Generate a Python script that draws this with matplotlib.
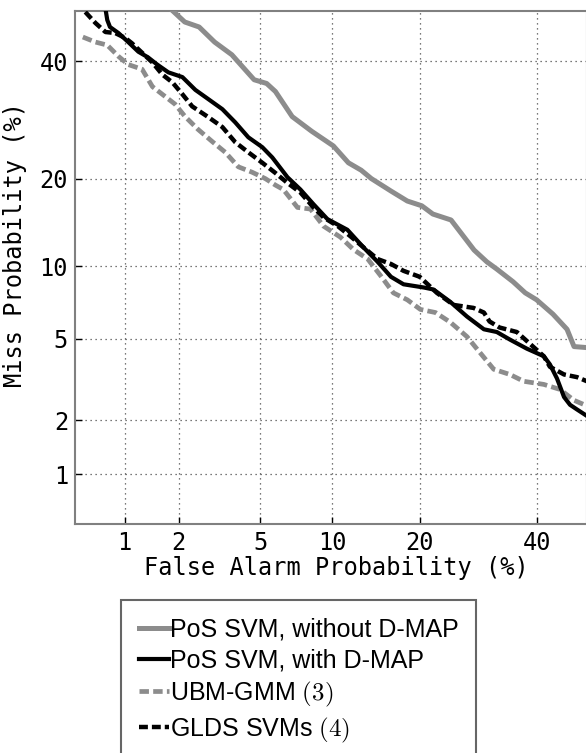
import numpy as np
import matplotlib
matplotlib.use('Agg')
import matplotlib.pyplot as plt
from statistics import NormalDist

# DET Kurve: Miss vs. False Alarm auf Normal-Deviate-Achsen

# Werte in Prozent
nodmap_fa = [1.8, 2.15, 2.55, 3.05, 3.7, 4.15, 4.7, 5.35, 5.85, 6.9, 8.3, 10.1, 11.5, 12.8, 13.9,
             16.2, 18.3, 20.3, 21.9, 24.7, 28.5, 30.7, 32.5, 35.5, 37.8, 40.0, 43.2, 46.0, 47.4, 50.0]
nodmap_miss = [50.5, 47.8, 46.8, 43.8, 41.3, 39.0, 36.5, 35.8, 34.3, 29.8, 27.3, 24.9, 22.3, 21.2, 20.0,
               18.3, 17.0, 16.4, 15.4, 14.7, 11.5, 10.4, 9.75, 8.7, 7.85, 7.35, 6.4, 5.5, 4.6, 4.55]

dmap_fa = [0.77, 0.79, 0.82, 0.92, 1.05, 1.2, 1.36, 1.53, 1.76, 2.09, 2.44, 2.84, 3.33, 3.84, 4.42,
           5.12, 5.67, 6.59, 7.47, 8.44, 9.58, 11.4, 13.0, 14.6, 16.2, 17.8, 20.6, 22.0, 24.6, 27.3,
           30.2, 32.5, 34.9, 38.1, 41.4, 42.6, 44.0, 45.4, 46.6, 48.0, 50.0]
dmap_miss = [50.5, 48.2, 46.8, 45.6, 43.8, 41.9, 40.8, 39.4, 37.9, 37.0, 34.6, 32.9, 31.1, 28.8, 26.3,
             24.7, 23.1, 20.2, 18.5, 16.6, 14.8, 13.6, 11.8, 10.4, 9.1, 8.5, 8.25, 8.1, 7.2, 6.25,
             5.5, 5.35, 4.95, 4.5, 4.15, 3.8, 3.25, 2.63, 2.4, 2.27, 2.1]

ubm_fa = [0.56, 0.67, 0.79, 0.92, 1.05, 1.26, 1.44, 1.63, 1.91, 2.16, 2.52, 2.97, 3.44, 3.97, 4.61,
          5.28, 5.85, 6.33, 7.26, 8.21, 9.25, 10.75, 12.0, 13.5, 14.95, 16.5, 18.3, 20.1, 22.3, 24.6,
          27.3, 28.95, 31.95, 34.9, 37.5, 41.4, 44.6, 47.4, 50.0]
ubm_miss = [44.8, 43.8, 43.2, 41.0, 39.4, 38.5, 35.2, 33.8, 32.0, 29.8, 27.6, 25.6, 23.9, 21.7, 20.9,
            20.0, 19.1, 18.5, 16.2, 16.0, 14.0, 12.8, 11.55, 10.65, 9.2, 7.85, 7.35, 6.7, 6.5, 5.9,
            5.1, 4.5, 3.6, 3.4, 3.15, 3.04, 2.87, 2.53, 2.37]

glds_fa = [0.58, 0.67, 0.77, 0.88, 1.01, 1.1, 1.26, 1.44, 1.63, 1.85, 2.09, 2.35, 2.84, 3.33, 3.84,
           4.42, 5.12, 5.85, 6.59, 7.47, 8.44, 9.25, 10.5, 11.7, 13.0, 14.6, 16.2, 17.8, 20.0, 22.5,
           25.1, 28.4, 30.2, 31.2, 33.0, 36.2, 41.4, 42.6, 45.4, 48.0, 50.0]
glds_miss = [49.8, 47.6, 45.8, 45.6, 44.6, 43.6, 41.7, 39.8, 37.5, 36.0, 33.8, 31.6, 29.7, 28.0, 25.5,
             23.9, 22.3, 20.8, 19.4, 18.1, 16.2, 15.0, 14.0, 12.9, 11.8, 10.65, 10.2, 9.6, 9.1, 7.85,
             7.0, 6.8, 6.5, 5.95, 5.6, 5.35, 4.15, 3.7, 3.4, 3.3, 3.15]

x_ticks = [1, 2, 5, 10, 20, 40]
y_ticks = [1, 2, 5, 10, 20, 40]
labels = ['PoS SVM, without D-MAP', 'PoS SVM, with D-MAP', 'UBM-GMM $(3)$', 'GLDS SVMs $(4)$']

nd = NormalDist()
_ppf = np.vectorize(nd.inv_cdf, otypes=[float])
_cdf = np.vectorize(nd.cdf, otypes=[float])


def probit(p):
    p = np.clip(np.asarray(p, dtype=float) / 100.0, 1e-9, 1 - 1e-9)
    return _ppf(p)


def inv_probit(z):
    return _cdf(np.asarray(z, dtype=float)) * 100.0


plt.rcParams['mathtext.fontset'] = 'cm'

fig = plt.figure(figsize=(5.86, 7.53), dpi=100)
ax = fig.add_axes([75 / 586, 1 - 524 / 753, 512 / 586, 513 / 753])
ax.set_xscale('function', functions=(probit, inv_probit))
ax.set_yscale('function', functions=(probit, inv_probit))

grau = '#8c8c8c'
ax.plot(nodmap_fa, nodmap_miss, color=grau, lw=3.6, label=labels[0], zorder=3)
ax.plot(dmap_fa, dmap_miss, color='k', lw=3.0, label=labels[1], zorder=4)
ax.plot(ubm_fa, ubm_miss, color=grau, lw=3.4, dashes=(2, 0.9), label=labels[2], zorder=3)
ax.plot(glds_fa, glds_miss, color='k', lw=3.2, dashes=(2, 0.9), label=labels[3], zorder=5)

ax.set_xlim(0.5, 50)
ax.set_ylim(0.5, 50)
ax.set_xticks(x_ticks)
ax.set_yticks(y_ticks)
ax.set_xticklabels([str(t) for t in x_ticks])
ax.set_yticklabels([str(t) for t in y_ticks])
ax.xaxis.set_minor_locator(matplotlib.ticker.NullLocator())
ax.yaxis.set_minor_locator(matplotlib.ticker.NullLocator())

mono = 'DejaVu Sans Mono'
for lab in ax.get_xticklabels() + ax.get_yticklabels():
    lab.set_family(mono)
    lab.set_fontsize(17)
ax.tick_params(axis='both', direction='in', length=5, width=1, color='k')
ax.tick_params(axis='x', pad=5)
ax.tick_params(axis='y', pad=5)

ax.grid(True, color='0.3', linestyle=(0, (1, 3)), linewidth=0.9)
for s in ax.spines.values():
    s.set_color('0.5')
    s.set_linewidth(1.5)

ax.set_xlabel('False Alarm Probability (%)', family=mono, fontsize=17)
ax.set_ylabel('Miss Probability (%)', family=mono, fontsize=17)
ax.xaxis.set_label_coords(0.511, -0.063)
ax.yaxis.set_label_coords(-0.093, 0.544)

leg = fig.legend(loc='upper left', bbox_to_anchor=(121 / 586, 1 - 600 / 753),
                 borderaxespad=0, fancybox=False, framealpha=1, edgecolor='0.4',
                 prop={'family': 'Liberation Sans', 'size': 18},
                 handlelength=1.2, handletextpad=0.05, labelspacing=0.28, borderpad=0.7)
leg.get_frame().set_linewidth(1.5)

plt.savefig('out.png', dpi=100)
